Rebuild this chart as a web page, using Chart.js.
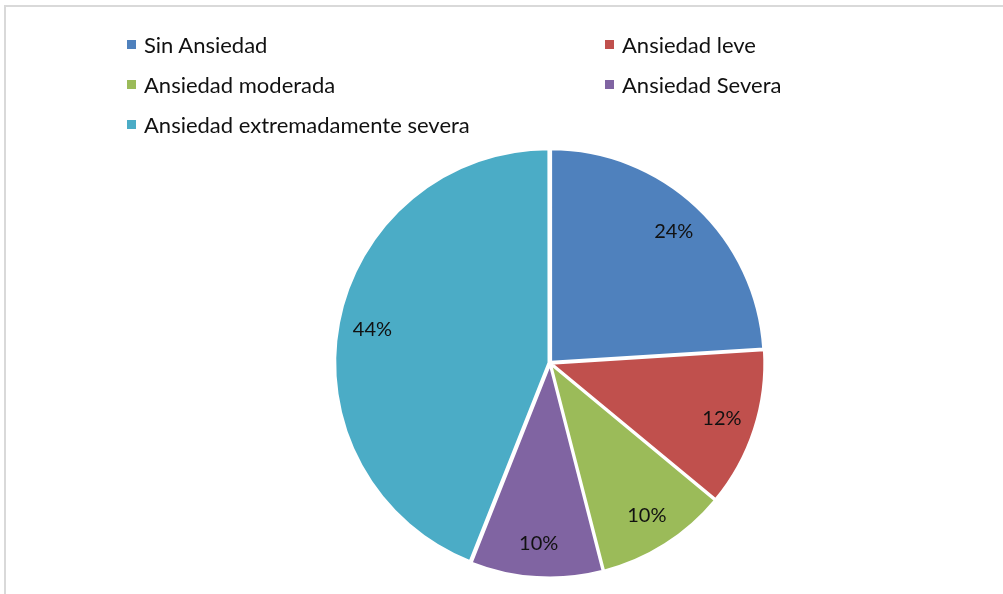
<!DOCTYPE html>
<html>
<head>
<meta charset="utf-8">
<script src="https://cdn.jsdelivr.net/npm/chart.js@4.4.1/dist/chart.umd.min.js"></script>
<style>
    body { margin: 0; background: #fff; font-family: Lato, "Open Sans", sans-serif; }
    #frame { position: absolute; left: 4px; top: 5px; width: 1003px; height: 594px;
             border-left: 2px solid #d9d9d9; border-top: 2px solid #d9d9d9; }
    #wrap { position: absolute; left: 0; top: 0; width: 1003px; height: 594px; }
    .legend-item { position: absolute; font-size: 22px; color: #111; white-space: nowrap; }
    .legend-item span.box { display: inline-block; width: 9px; height: 9px; margin-right: 8px;
                            vertical-align: 4px; }
</style>
</head>
<body>
<div id="frame"></div>
<div id="wrap"><canvas id="pieChart" width="1003" height="594"></canvas></div>
<div id="legend"></div>
<script>
// Chart data
const labels = ['Sin Ansiedad', 'Ansiedad leve', 'Ansiedad moderada', 'Ansiedad Severa', 'Ansiedad extremadamente severa'];
const values = [24, 12, 10, 10, 44];
const colors = ['#4F81BD', '#C0504D', '#9BBB59', '#8064A2', '#4BACC6'];

// Legend positions in two columns, like the original
const legendPos = [[127, 31], [605, 31], [127, 71], [605, 71], [127, 111]];
const legendDiv = document.getElementById('legend');
labels.forEach((label, i) => {
    const item = document.createElement('div');
    item.className = 'legend-item';
    item.style.left = legendPos[i][0] + 'px';
    item.style.top = legendPos[i][1] + 'px';
    item.innerHTML = '<span class="box" style="background:' + colors[i] + '"></span>' + label;
    legendDiv.appendChild(item);
});

// Draw percentage labels inside each slice
const percentLabels = {
    id: 'percentLabels',
    afterDatasetsDraw(chart) {
        const ctx = chart.ctx;
        const meta = chart.getDatasetMeta(0);
        const total = values.reduce((sum, v) => sum + v, 0);
        ctx.save();
        ctx.font = '20px Lato, "Open Sans", sans-serif';
        ctx.fillStyle = '#111';
        ctx.textAlign = 'center';
        ctx.textBaseline = 'middle';
        meta.data.forEach((arc, i) => {
            const mid = (arc.startAngle + arc.endAngle) / 2;
            const r = arc.outerRadius * 0.83 + 4;
            const x = arc.x + Math.cos(mid) * r;
            const y = arc.y + Math.sin(mid) * r;
            ctx.fillText(Math.round(values[i] / total * 100) + '%', x, y);
        });
        ctx.restore();
    }
};

const ctx = document.getElementById('pieChart').getContext('2d');
const pieChart = new Chart(ctx, {
    type: 'pie',
    data: {
        labels: labels,
        datasets: [{
            data: values,
            backgroundColor: colors,
            borderColor: '#fff',
            borderWidth: 2.5,
            offset: 5
        }]
    },
    options: {
        responsive: false,
        animation: false,
        radius: 213,
        layout: {
            padding: { left: 97, right: 0, top: 132, bottom: 0 }
        },
        plugins: {
            legend: { display: false },
            tooltip: { enabled: false }
        }
    },
    plugins: [percentLabels]
});
</script>
</body>
</html>
